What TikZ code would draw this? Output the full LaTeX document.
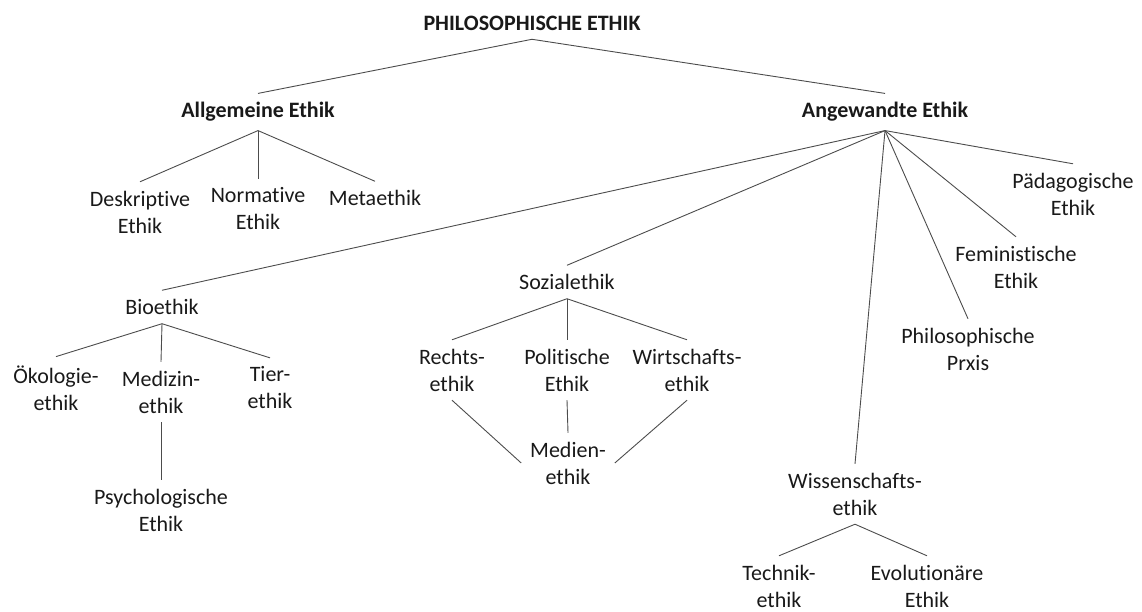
\documentclass[tikz,border=0pt]{standalone}
\usepackage{fontspec}
\setmainfont{Carlito}[Ligatures=NoCommon]
\begin{document}
\begin{tikzpicture}[x=1pt,y=-1pt,
    lbl/.style={inner sep=0pt,outer sep=9pt,align=center,text=black!90,
      font=\fontsize{22}{27}\selectfont},
    head/.style={lbl,font=\fontsize{22}{27}\selectfont\bfseries},
    ln/.style={black!70,line width=0.9pt}]
  \useasboundingbox (0,0) rectangle (1142,612);
  % TOP
  \node[head] (phil) at (532,23) {PHILOSOPHISCHE ETHIK};
  \node[head] (allg) at (258,112) {Allgemeine Ethik};
  \node[head] (angew) at (885,112) {Angewandte Ethik};
  % ALLGEMEINE
  \node[lbl] (deskr) at (140,212) {Deskriptive\\Ethik};
  \node[lbl] (norm) at (258,209) {Normative\\Ethik};
  \node[lbl] (meta) at (375,198) {Metaethik};
  % ANGEWANDTE
  \node[lbl] (bio) at (162,307) {Bioethik};
  \node[lbl] (sozial) at (567,282) {Sozialethik};
  \node[lbl] (wiss) at (855,494) {Wissenschafts-\\ethik};
  \node[lbl] (prxis) at (968,349) {Philosophische\\Prxis};
  \node[lbl] (femin) at (1016,267) {Feministische\\Ethik};
  \node[lbl] (paed) at (1073,194) {Pädagogische\\Ethik};
  % BIOETHIK
  \node[lbl] (oeko) at (56,388) {Ökologie-\\ethik};
  \node[lbl] (med) at (161,392) {Medizin-\\ethik};
  \node[lbl] (tier) at (270,388) {Tier-\\ethik};
  \node[lbl] (psych) at (161,510) {Psychologische\\Ethik};
  % SOZIALETHIK
  \node[lbl] (rechts) at (452,370) {Rechts-\\ethik};
  \node[lbl] (polit) at (567,370) {Politische\\Ethik};
  \node[lbl] (wirt) at (687,370) {Wirtschafts-\\ethik};
  \node[lbl] (medien) at (568,463) {Medien-\\ethik};
  % WISSENSCHAFT
  \node[lbl] (technik) at (779,586) {Technik-\\ethik};
  \node[lbl] (evol) at (927,586) {Evolutionäre\\Ethik};
  % LINES
  \draw[ln] (allg.north) -- (phil.south) -- (angew.north);
  \draw[ln] (allg.south) -- (deskr.north);
  \draw[ln] (allg.south) -- (norm.north);
  \draw[ln] (allg.south) -- (meta.north);
  \foreach \c in {bio,sozial,wiss,prxis,femin,paed}
    \draw[ln] (angew.south) -- (\c.north);
  \foreach \c in {oeko,med,tier}
    \draw[ln] (bio.south) -- (\c.north);
  \draw[ln] (med.south) -- (psych.north);
  \foreach \c in {rechts,polit,wirt}
    \draw[ln] (sozial.south) -- (\c.north);
  \draw[ln] (rechts.south) -- (medien.west);
  \draw[ln] (polit.south) -- (medien.north);
  \draw[ln] (wirt.south) -- (medien.east);
  \draw[ln] (wiss.south) -- (technik.north);
  \draw[ln] (wiss.south) -- (evol.north);
\end{tikzpicture}
\end{document}
